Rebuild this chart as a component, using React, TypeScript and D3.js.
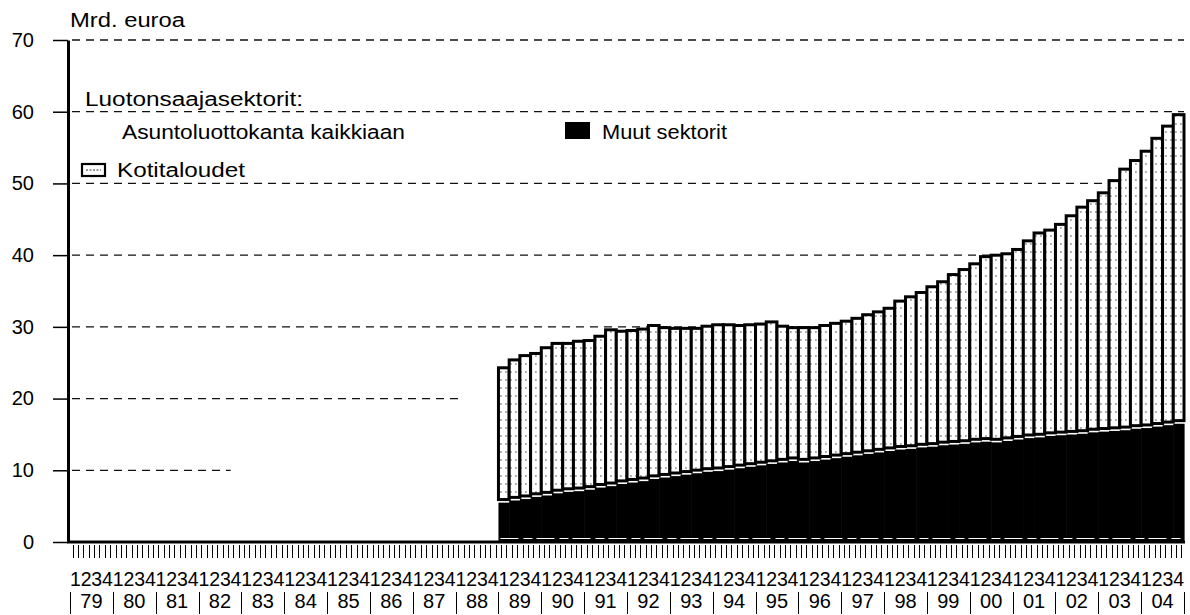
import React, { useEffect, useRef } from "react";
import * as d3 from "d3";

// quarterly axis 1979-2004, data only from 1989 on
const years = ["79", "80", "81", "82", "83", "84", "85", "86", "87", "88", "89", "90", "91", "92", "93", "94", "95", "96", "97", "98", "99", "00", "01", "02", "03", "04"];
const quarterLabels = ["1", "2", "3", "4"];
const dataYears = ["89", "90", "91", "92", "93", "94", "95", "96", "97", "98", "99", "00", "01", "02", "03", "04"];

// Mrd. euroa, 1989Q1 .. 2004Q4
const muutSektorit = [
    5.6, 5.9, 6.1, 6.4,
    6.6, 6.9, 7.1, 7.2,
    7.4, 7.7, 7.9, 8.2,
    8.4, 8.6, 8.9, 9.1,
    9.3, 9.5, 9.7, 9.9,
    10.0, 10.2, 10.4, 10.6,
    10.8, 11.0, 11.2, 11.4,
    11.2, 11.4, 11.6, 11.8,
    12.0, 12.2, 12.4, 12.6,
    12.8, 13.0, 13.1, 13.3,
    13.4, 13.6, 13.7, 13.8,
    14.0, 14.1, 14.0, 14.2,
    14.4, 14.6, 14.7, 14.9,
    15.0, 15.1, 15.2, 15.4,
    15.5, 15.6, 15.7, 15.9,
    16.0, 16.2, 16.4, 16.6,
];

const kotitaloudet = [
    18.9, 19.7, 20.1, 20.1,
    20.7, 21.0, 20.8, 21.0,
    20.9, 21.2, 21.9, 21.4,
    21.3, 21.3, 21.5, 21.0,
    20.7, 20.5, 20.3, 20.4,
    20.5, 20.3, 20.0, 19.9,
    19.8, 19.9, 19.1, 18.7,
    18.9, 18.7, 18.8, 18.9,
    19.0, 19.2, 19.5, 19.7,
    20.0, 20.8, 21.3, 21.7,
    22.4, 22.9, 23.8, 24.4,
    25.0, 25.9, 26.2, 26.2,
    26.6, 27.6, 28.6, 28.8,
    29.5, 30.6, 31.7, 32.4,
    33.4, 35.0, 36.5, 37.5,
    38.7, 40.3, 41.8, 43.2,
];

const yTicks = [0, 10, 20, 30, 40, 50, 60, 70];
const unitLabel = "Mrd. euroa";
const legendTitle = "Luotonsaajasektorit:";
const legendTotal = "Asuntoluottokanta kaikkiaan";
const legendHouseholds = "Kotitaloudet";
const legendOther = "Muut sektorit";

const FONT = "'Liberation Sans', Arial, Helvetica, sans-serif";

const App = () => {
    const svgRef = useRef<SVGSVGElement>(null);

    useEffect(() => {
        const width = 1190, height = 615;
        const left = 70, right = 1184;
        const top = 40, bottom = 542;

        const svg = d3.select(svgRef.current)
            .attr("width", width)
            .attr("height", height);

        svg.selectAll("*").remove();

        const quarters = years.flatMap(yr => quarterLabels.map(q => `${yr}:${q}`));

        const xScale = d3.scaleBand<string>()
            .domain(quarters)
            .range([left, right])
            .padding(0);
        const bw = xScale.bandwidth();

        const yScale = d3.scaleLinear()
            .domain([0, 70])
            .range([bottom, top]);

        const rows = dataYears.flatMap((yr, yi) => quarterLabels.map((q, qi) => ({
            key: `${yr}:${q}`,
            muut: muutSektorit[yi * 4 + qi],
            koti: kotitaloudet[yi * 4 + qi],
        })));

        const stacked = d3.stack<any>().keys(["muut", "koti"])(rows);

        // sparse dotted hatch for the household part
        const pat = svg.append("defs").append("pattern")
            .attr("id", "koti-hatch")
            .attr("patternUnits", "userSpaceOnUse")
            .attr("width", 5)
            .attr("height", 8);
        pat.append("rect").attr("width", 5).attr("height", 8).attr("fill", "#fff");
        pat.append("line")
            .attr("x1", 0).attr("x2", 1.8)
            .attr("y1", 4).attr("y2", 4)
            .attr("stroke", "#444")
            .attr("stroke-width", 0.9);

        // dashed gridlines (the lower ones stop early, as in the print)
        const gridEnd = (v: number) =>
            v === 10 ? (xScale("82:4") as number) :
            v === 20 ? (xScale("88:1") as number) + bw * 0.6 :
            right;

        svg.append("g")
            .selectAll("line")
            .data(yTicks.filter(v => v > 0))
            .enter()
            .append("line")
            .attr("x1", left + 2)
            .attr("x2", d => gridEnd(d))
            .attr("y1", d => yScale(d))
            .attr("y2", d => yScale(d))
            .attr("stroke", "#111")
            .attr("stroke-width", 1.3)
            .attr("stroke-dasharray", "8 6");

        // Muut sektorit: solid black
        svg.append("g")
            .selectAll("rect")
            .data(stacked[0])
            .enter()
            .append("rect")
            .attr("x", d => xScale(d.data.key) as number)
            .attr("width", bw + 0.6)
            .attr("y", d => yScale(d[1]) + 0.8)
            .attr("height", d => yScale(d[0]) - yScale(d[1]) - 0.8)
            .attr("fill", "#000");

        // Kotitaloudet: white hatched bar with heavy outline
        svg.append("g")
            .selectAll("rect")
            .data(stacked[1])
            .enter()
            .append("rect")
            .attr("x", d => xScale(d.data.key) as number)
            .attr("width", bw)
            .attr("y", d => yScale(d[1]) + 1.5)
            .attr("height", d => (yScale(d[0]) - 2.3) - (yScale(d[1]) + 1.5))
            .attr("fill", "url(#koti-hatch)")
            .attr("stroke", "#000")
            .attr("stroke-width", 3);

        // faint white streak along the bottom of the black area
        svg.append("line")
            .attr("x1", (xScale("89:1") as number) + 2)
            .attr("x2", right - 2)
            .attr("y1", bottom - 3.5)
            .attr("y2", bottom - 3.5)
            .attr("stroke", "#fff")
            .attr("stroke-width", 1)
            .attr("stroke-dasharray", "18 5 9 4");

        // y axis
        const yAxis = d3.axisLeft(yScale)
            .tickValues(yTicks)
            .tickSize(15)
            .tickSizeOuter(0)
            .tickPadding(19)
            .tickFormat(d3.format("d"));

        const gy = svg.append("g")
            .attr("transform", `translate(${left - 2},0)`)
            .call(yAxis);
        gy.select(".domain").attr("stroke", "#000").attr("stroke-width", 3);
        gy.selectAll(".tick line").attr("stroke", "#000").attr("stroke-width", 1.5);
        gy.selectAll(".tick text")
            .attr("font-family", FONT)
            .attr("font-size", 20)
            .attr("fill", "#000");

        // x axis baseline
        svg.append("line")
            .attr("x1", left - 3)
            .attr("x2", right + 1)
            .attr("y1", bottom)
            .attr("y2", bottom)
            .attr("stroke", "#000")
            .attr("stroke-width", 3);

        // small ticks, two per quarter, snapped to the pixel grid
        const tickXs = quarters.flatMap(q => [
            Math.round((xScale(q) as number) + bw * 0.25) + 0.5,
            Math.round((xScale(q) as number) + bw * 0.75) + 0.5,
        ]);
        svg.append("g")
            .selectAll("line")
            .data(tickXs)
            .enter()
            .append("line")
            .attr("x1", d => d)
            .attr("x2", d => d)
            .attr("y1", bottom + 3)
            .attr("y2", bottom + 16)
            .attr("stroke", "#000")
            .attr("stroke-width", 1);

        // quarter digits
        svg.append("g")
            .selectAll("text")
            .data(quarters)
            .enter()
            .append("text")
            .attr("x", d => (xScale(d) as number) + bw / 2)
            .attr("y", 586)
            .attr("text-anchor", "middle")
            .attr("font-family", FONT)
            .attr("font-size", 19.5)
            .text(d => d.split(":")[1]);

        // year labels and separators
        svg.append("g")
            .selectAll("text")
            .data(years)
            .enter()
            .append("text")
            .attr("x", d => (xScale(`${d}:1`) as number) + bw * 2)
            .attr("y", 608)
            .attr("text-anchor", "middle")
            .attr("font-family", FONT)
            .attr("font-size", 20)
            .text(d => d);

        svg.append("g")
            .selectAll("line")
            .data([...years.map(d => xScale(`${d}:1`) as number), right])
            .enter()
            .append("line")
            .attr("x1", d => Math.round(d) + 0.5)
            .attr("x2", d => Math.round(d) + 0.5)
            .attr("y1", 592)
            .attr("y2", 614)
            .attr("stroke", "#000")
            .attr("stroke-width", 1);

        // titles and legend (print type is wide, so stretch to measured widths)
        const label = (txt: string, x: number, y: number, w: number) =>
            svg.append("text")
                .attr("x", x)
                .attr("y", y)
                .attr("font-family", FONT)
                .attr("font-size", 20)
                .attr("textLength", w)
                .attr("lengthAdjust", "spacingAndGlyphs")
                .text(txt);

        label(unitLabel, 70, 27, 115);
        label(legendTitle, 85, 106, 218);
        label(legendTotal, 122, 139, 283);
        label(legendHouseholds, 117, 177, 128);
        label(legendOther, 602, 139, 125);

        svg.append("rect")
            .attr("x", 82).attr("y", 164)
            .attr("width", 23).attr("height", 12)
            .attr("fill", "#fff")
            .attr("stroke", "#000")
            .attr("stroke-width", 2.2);
        svg.append("line")
            .attr("x1", 86).attr("x2", 101)
            .attr("y1", 170).attr("y2", 170)
            .attr("stroke", "#333")
            .attr("stroke-width", 1)
            .attr("stroke-dasharray", "2 1.5");

        svg.append("rect")
            .attr("x", 565).attr("y", 122)
            .attr("width", 25).attr("height", 17)
            .attr("fill", "#000");
    }, []);

    return (
        <svg
            ref={svgRef}
            style={{ position: "absolute", left: 0, top: 0, background: "#fff", display: "block" }}
        ></svg>
    );
};

export default App;
